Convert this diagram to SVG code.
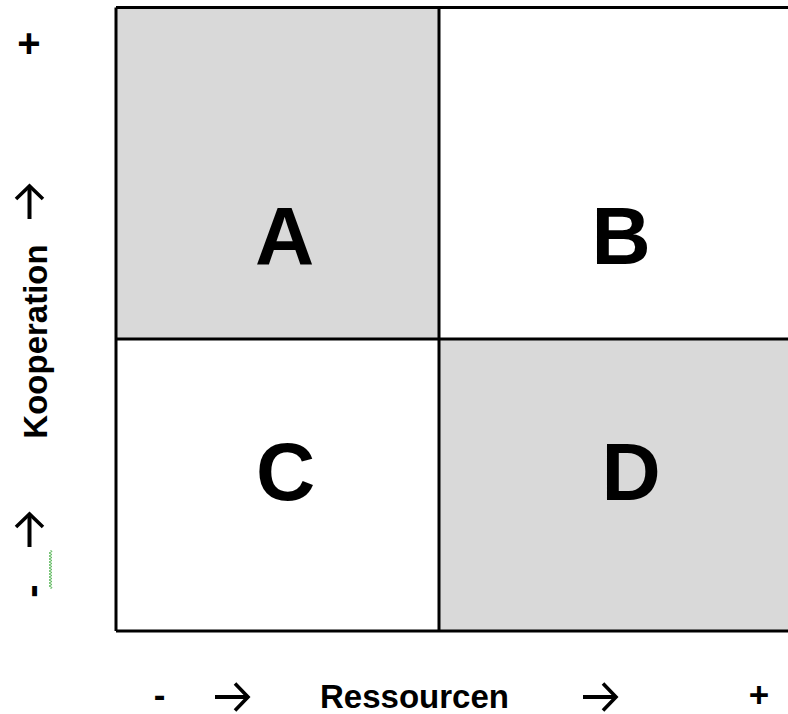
<svg xmlns="http://www.w3.org/2000/svg" width="788" height="714" viewBox="0 0 788 714">
  <defs>
    <!-- open-headed arrow, pointing right, centred on the origin -->
    <g id="arrow" fill="none" stroke="#000" stroke-width="4">
      <path d="M-17 0 H15"/>
      <path d="M3 -13.5 L16 0 L3 13.5" stroke-width="3.6"/>
    </g>
  </defs>
  <style>
    .lbl { font-family: "Liberation Sans", Arial, sans-serif; font-weight: bold; fill: #000; }
    .axis { font-size: 33px; }
    .sign { font-size: 40px; }
    .bsign { font-size: 35px; }
    .big { font-size: 82px; text-anchor: middle; }
    .cell { stroke: #000; stroke-width: 3; }
    .shade { fill: #d9d9d9; }
    .plain { fill: #ffffff; }
  </style>
  <rect width="788" height="714" fill="#ffffff"/>

  <!-- quadrant cells -->
  <g id="A">
    <rect class="shade" x="116" y="7.5" width="323" height="331.5"/>
    <text class="lbl big" x="284.5" y="264">A</text>
  </g>
  <g id="B">
    <rect class="plain" x="439" y="7.5" width="351" height="331.5"/>
    <text class="lbl big" x="621" y="264">B</text>
  </g>
  <g id="C">
    <rect class="plain" x="116" y="339" width="323" height="292"/>
    <text class="lbl big" x="285.5" y="500">C</text>
  </g>
  <g id="D">
    <rect class="shade" x="439" y="339" width="351" height="292"/>
    <text class="lbl big" x="631" y="500">D</text>
  </g>

  <!-- grid lines -->
  <g id="grid" fill="none" class="cell">
    <path d="M116 7.5 H790 M116 631 H790 M116 7.5 V631 M439 7.5 V631 M116 339 H790"/>
  </g>

  <!-- horizontal axis -->
  <g id="x-axis">
    <text class="lbl bsign" x="159.5" y="707" text-anchor="middle">-</text>
    <use href="#arrow" transform="translate(232 697)"/>
    <text class="lbl axis" x="414.5" y="708" text-anchor="middle">Ressourcen</text>
    <use href="#arrow" transform="translate(600 697)"/>
    <text class="lbl bsign" x="759" y="707" text-anchor="middle">+</text>
  </g>

  <!-- vertical axis -->
  <g id="y-axis">
    <text class="lbl sign" x="29" y="57" text-anchor="middle">+</text>
    <use href="#arrow" transform="translate(29.5 202) rotate(-90)"/>
    <text class="lbl axis" transform="translate(46.5 341.5) rotate(-90)" x="0" y="0" text-anchor="middle">Kooperation</text>
    <use href="#arrow" transform="translate(29.5 530) rotate(-90)"/>
    <text class="lbl sign" transform="translate(45.3 591) rotate(-90)" x="0" y="0" text-anchor="middle">-</text>
    <path d="M50.5 550 l1.5 1.5 -3 1.5 3 1.5 -3 1.5 3 1.5 -3 1.5 3 1.5 -3 1.5 3 1.5 -3 1.5 3 1.5 -3 1.5 3 1.5 -3 1.5 3 1.5 -3 1.5 3 1.5 -3 1.5 3 1.5 -3 1.5 3 1.5 -3 1.5 3 1.5 -3 1.5 3 1.5 -1.5 1.5" fill="none" stroke="#5cb85c" stroke-width="1"/>
  </g>
</svg>
